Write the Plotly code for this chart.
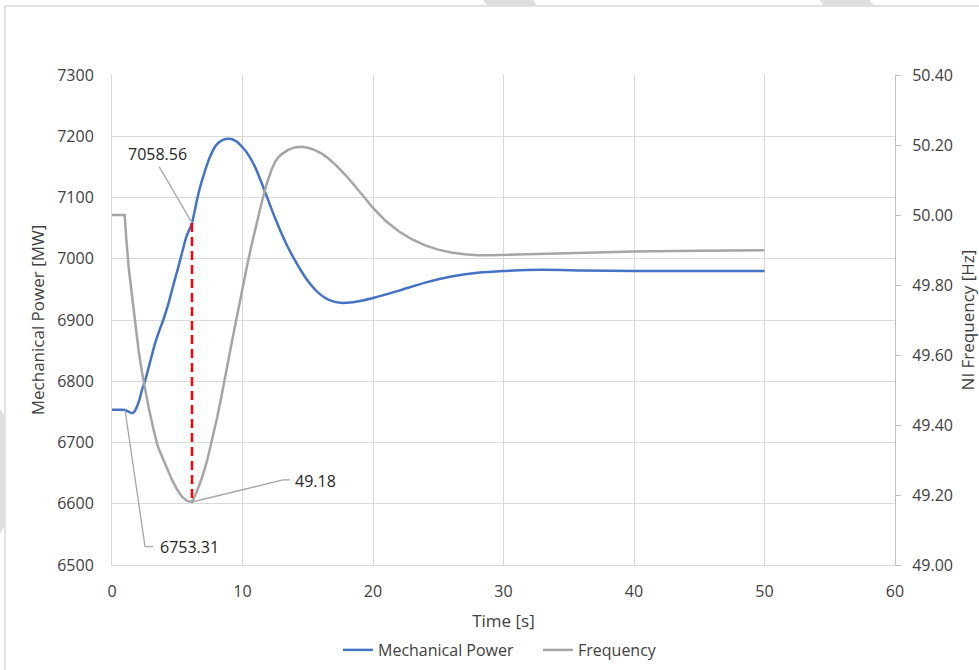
import plotly.graph_objects as go

# ---------------- data ----------------
power_time = [0, 0.5, 1.0, 1.3, 1.5, 1.7, 1.9, 2.1, 2.3, 2.55, 2.9, 3.3, 3.6, 3.96, 4.3, 4.6,
              5.0, 5.36, 5.7, 6.13, 6.5, 6.75, 7.0, 7.5, 8.0, 8.5, 9.0, 9.5, 10.0, 10.5, 11.0,
              11.5, 12.0, 12.5, 13.0, 13.5, 14.0, 14.5, 15.0, 15.5, 16.0, 16.5, 17.0, 17.5,
              18.0, 19.0, 20.0, 22.0, 24.0, 26.0, 28.0, 30.0, 33.0, 36.0, 40.0, 45.0, 50.0]
mechanical_power = [6753.31, 6753.31, 6753, 6750, 6748, 6750, 6758, 6770, 6786, 6802, 6830,
                    6862, 6881, 6902, 6925, 6949, 6980, 7009, 7036, 7058.56, 7095, 7117, 7135,
                    7166, 7186, 7194, 7196, 7192, 7182, 7168, 7148, 7122, 7094, 7066, 7041,
                    7018, 6998, 6980, 6964, 6951, 6941, 6934, 6930, 6928, 6928, 6931, 6936,
                    6948, 6961, 6971, 6977, 6980, 6982, 6981, 6980, 6980, 6980]

freq_time = [0, 0.5, 0.97, 1.1, 1.28, 1.5, 1.79, 2.05, 2.3, 2.55, 2.81, 3.19, 3.5, 3.83, 4.2,
             4.6, 5.0, 5.36, 5.75, 6.13, 6.5, 6.9, 7.3, 7.66, 8.05, 8.43, 8.8, 9.2, 9.6, 9.96,
             10.35, 10.73, 11.1, 11.5, 11.85, 12.0, 12.2, 12.5, 12.75, 13.0, 13.5, 14.0, 14.5,
             15.0, 15.5, 16.0, 16.5, 17.0, 17.5, 18.0, 18.5, 19.0, 19.5, 20.0, 21.0, 22.0,
             23.0, 24.0, 25.0, 26.0, 27.0, 28.0, 29.0, 30.0, 32.0, 35.0, 40.0, 45.0, 50.0]
frequency = [50.00, 50.00, 50.00, 49.93, 49.85, 49.78, 49.69, 49.61, 49.55, 49.50, 49.45,
             49.386, 49.34, 49.31, 49.275, 49.243, 49.215, 49.195, 49.183, 49.18, 49.21,
             49.25, 49.30, 49.357, 49.42, 49.49, 49.565, 49.64, 49.715, 49.786, 49.855,
             49.92, 49.98, 50.04, 50.088, 50.106, 50.127, 50.152, 50.165, 50.174, 50.186,
             50.193, 50.195, 50.192, 50.186, 50.177, 50.164, 50.148, 50.130, 50.110, 50.088,
             50.065, 50.042, 50.020, 49.982, 49.953, 49.930, 49.913, 49.901, 49.893, 49.888,
             49.885, 49.885, 49.886, 49.889, 49.893, 49.896, 49.898, 49.899]

marker_time = 6.13
power_label = 7058.56
initial_power = 6753.31
min_frequency = 49.18

x_ticks = [0, 10, 20, 30, 40, 50, 60]
power_ticks = [6500, 6600, 6700, 6800, 6900, 7000, 7100, 7200, 7300]
freq_ticks = [49.00, 49.20, 49.40, 49.60, 49.80, 50.00, 50.20, 50.40]

# ---------------- layout geometry ----------------
W, H = 979, 670
ML, MR, MT, MB = 112, 84, 75, 105
PW, PH = W - ML - MR, H - MT - MB
P_MIN, P_MAX = power_ticks[0], power_ticks[-1]
F_MIN, F_MAX = freq_ticks[0], freq_ticks[-1]


def px(x):
    return (x - ML) / PW


def py(y):
    return (H - MB - y) / PH


def f_to_p(f):
    return P_MIN + (f - F_MIN) / (F_MAX - F_MIN) * (P_MAX - P_MIN)


FONT = "Open Sans"
BLUE = "#4472C4"
GRAY = "#A5A5A5"
GRID = "#D9D9D9"
LEADER = "#A6A6A6"
TXT = "#404040"

fig = go.Figure()
fig.add_trace(go.Scatter(x=power_time, y=mechanical_power, mode="lines",
                         name="Mechanical Power",
                         line=dict(color=BLUE, width=2.5, shape="spline", smoothing=0.6),
                         yaxis="y", legend="legend"))
fig.add_trace(go.Scatter(x=freq_time, y=frequency, mode="lines",
                         name="Frequency",
                         line=dict(color=GRAY, width=2.5),
                         yaxis="y2", legend="legend2"))

shapes = []
# red dashed marker
shapes.append(dict(type="line", xref="x", yref="y", x0=marker_time, x1=marker_time,
                   y0=power_label, y1=f_to_p(min_frequency),
                   line=dict(color="#FF0000", width=2.5, dash="9px,5px")))
# leader lines
shapes.append(dict(type="path", xref="x", yref="y",
                   path=f"M {marker_time},{power_label} L 3.62,7150",
                   line=dict(color=LEADER, width=1.3)))
shapes.append(dict(type="path", xref="x", yref="y",
                   path=f"M 1.0,{initial_power} L 2.53,6530 L 3.14,6530",
                   line=dict(color=LEADER, width=1.3)))
shapes.append(dict(type="path", xref="x", yref="y2",
                   path=f"M {marker_time},{min_frequency} L 13.1,49.243 L 13.64,49.243",
                   line=dict(color=LEADER, width=1.3)))
# chart area border (left and top)
shapes.append(dict(type="line", xref="paper", yref="paper", x0=px(5), x1=px(5),
                   y0=py(6), y1=py(H + 5), line=dict(color="#D9D9D9", width=1.5)))
shapes.append(dict(type="line", xref="paper", yref="paper", x0=px(5), x1=px(W + 5),
                   y0=py(6), y1=py(6), line=dict(color="#D9D9D9", width=1.5)))


def poly(points):
    d = "M " + " L ".join(f"{px(a)},{py(b)}" for a, b in points) + " Z"
    return dict(type="path", xref="paper", yref="paper", path=d,
                fillcolor="#DEDEDE", line=dict(width=0), layer="below")


shapes.append(poly([(481, -2), (532, -2), (537, 6), (488, 6)]))
shapes.append(poly([(818, -2), (868, -2), (874, 6), (824, 6)]))
shapes.append(poly([(-2, 405), (4, 415), (4, 527), (-2, 537)]))

annotations = [
    dict(x=3.52, y=7171, xref="x", yref="y", text=f"{power_label:.2f}", showarrow=False,
         font=dict(family=FONT, size=16, color="#262626")),
    dict(x=5.9, y=6529, xref="x", yref="y", text=f"{initial_power:.2f}", showarrow=False,
         font=dict(family=FONT, size=16, color="#262626")),
    dict(x=15.56, y=49.24, xref="x", yref="y2", text=f"{min_frequency:.2f}", showarrow=False,
         font=dict(family=FONT, size=16, color="#262626")),
]

legend_common = dict(orientation="h", yanchor="middle", y=py(650), xanchor="left",
                     font=dict(family=FONT, size=16, color=TXT),
                     bgcolor="rgba(0,0,0,0)", itemwidth=30)

fig.update_layout(
    width=W, height=H,
    margin=dict(l=ML, r=MR, t=MT, b=MB, autoexpand=False),
    paper_bgcolor="white", plot_bgcolor="white",
    font=dict(family=FONT, size=16, color=TXT),
    showlegend=True,
    legend=dict(x=px(338), **legend_common),
    legend2=dict(x=px(538), **legend_common),
    xaxis=dict(range=[x_ticks[0], x_ticks[-1]], tickvals=x_ticks, showgrid=True,
               gridcolor=GRID, gridwidth=1, showline=True, linecolor=GRID, linewidth=1,
               zeroline=False, ticks="", ticklabelstandoff=12,
               tickfont=dict(family=FONT, size=16, color=TXT),
               title=dict(text="Time [s]", standoff=13,
                          font=dict(family=FONT, size=17, color=TXT))),
    yaxis=dict(range=[P_MIN, P_MAX], tickvals=power_ticks, showgrid=True, gridcolor=GRID,
               gridwidth=1, showline=True, linecolor=GRID, linewidth=1, zeroline=False,
               ticks="", ticklabelstandoff=14,
               tickfont=dict(family=FONT, size=16, color=TXT),
               title=dict(text="Mechanical Power [MW]", standoff=8,
                          font=dict(family=FONT, size=17, color=TXT))),
    yaxis2=dict(range=[F_MIN, F_MAX], tickvals=freq_ticks, tickformat=".2f",
                overlaying="y", side="right", showgrid=False, showline=True,
                linecolor="#BFBFBF", linewidth=1, zeroline=False, ticks="outside",
                ticklen=5, tickcolor="#BFBFBF", ticklabelstandoff=8,
                tickfont=dict(family=FONT, size=16, color=TXT),
                title=dict(text="NI Frequency [Hz]", standoff=19,
                           font=dict(family=FONT, size=17, color=TXT))),
    shapes=shapes,
    annotations=annotations,
)

fig.write_html("out.html", config={"displayModeBar": False},
               post_script="document.body.style.margin='0';")
